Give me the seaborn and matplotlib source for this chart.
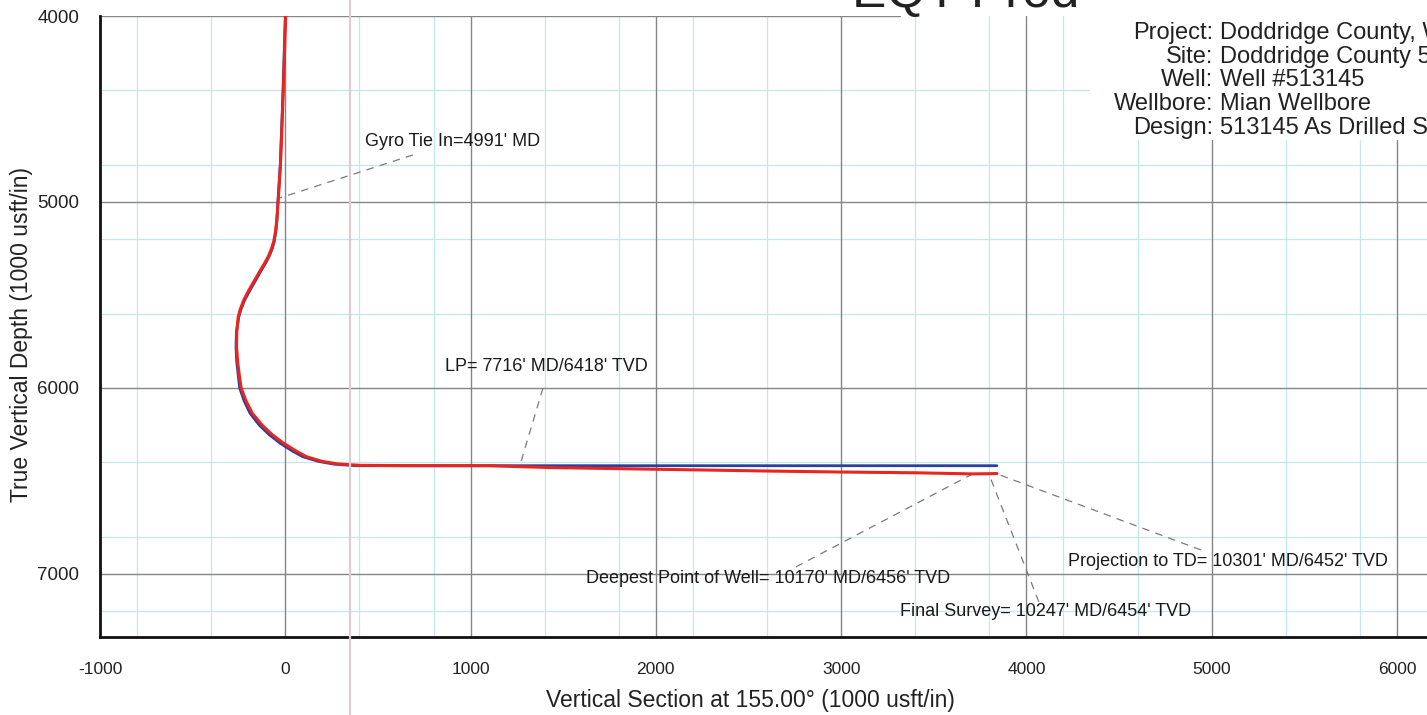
import matplotlib
matplotlib.use("Agg")
import matplotlib.pyplot as plt
import seaborn as sns
from matplotlib.ticker import MultipleLocator
from matplotlib.lines import Line2D
from matplotlib.patches import Rectangle

# As drilled survey (red) - vertical section (ft) vs TVD (ft)
actual_tvd = [4000, 4200, 4400, 4600, 4800, 4990, 5100, 5160, 5210, 5250, 5290, 5330, 5370,
              5435, 5490, 5527, 5580, 5618, 5700, 5780, 5860, 5940, 6000, 6070, 6136, 6200,
              6250, 6297, 6340, 6370, 6395, 6408, 6416, 6418, 6418, 6428, 6437, 6447, 6452,
              6456, 6462, 6461, 6460]
actual_vs = [2, -4, -11, -18, -26, -38, -46, -53, -62, -74, -90, -112, -136,
             -174, -205, -224, -244, -254, -262, -263, -257, -247, -238, -212, -178, -125,
             -72, -10, 60, 115, 200, 280, 400, 700, 1100, 1430, 2000, 2630, 3000,
             3400, 3706, 3798, 3841]

# Plan (blue)
plan_tvd = [4000, 4400, 4800, 5000, 5100, 5160, 5210, 5250, 5290, 5330, 5370, 5435, 5490,
            5527, 5580, 5618, 5700, 5780, 5860, 5940, 6000, 6070, 6136, 6200, 6250, 6297,
            6340, 6370, 6395, 6410, 6418, 6418]
plan_vs = [0, -12, -27, -40, -45, -51, -59, -70, -86, -107, -131, -168, -199,
           -219, -240, -251, -264, -266, -262, -253, -246, -222, -190, -140, -88, -28,
           40, 95, 180, 265, 380, 3841]

# annotations: label, text position (vs, tvd), leader start, leader end
ann_labels = ["Gyro Tie In=4991' MD",
              "LP= 7716' MD/6418' TVD",
              "Deepest Point of Well= 10170' MD/6456' TVD",
              "Final Survey= 10247' MD/6454' TVD",
              "Projection to TD= 10301' MD/6452' TVD"]
ann_text_xy = [(430, 4677), (862, 5882), (3587, 7027), (3317, 7204), (4224, 6935)]
ann_ha = ["left", "left", "right", "left", "left"]
ann_from = [(689, 4747), (1391, 6000), (2756, 6962), (4067, 7150), (4942, 6871)]
ann_to = [(-29, 4978), (1267, 6414), (3706, 6464), (3798, 6464), (3841, 6462)]

header_keys = ["Project:", "Site:", "Well:", "Wellbore:", "Design:"]
header_vals = ["Doddridge County, WV", "Doddridge County 513145", "Well #513145",
               "Mian Wellbore", "513145 As Drilled Surveys"]

# background grid (light cyan) positions
cyan_x = [-800, -400, 400, 800, 1400, 1800, 2200, 2600, 3400, 3800, 4200, 4600, 5400, 5800]
cyan_y = [4400, 4800, 5200, 5600, 6400, 6800, 7200]

W, H = 1427, 715
sns.set_style("white")
plt.rcParams["font.family"] = ["Liberation Sans", "DejaVu Sans"]
plt.rcParams["axes.unicode_minus"] = False

fig = plt.figure(figsize=(W / 100, H / 100), dpi=100)
ax = fig.add_axes([100 / W, 78 / H, 1327 / W, (637 - 16) / H])

for x in cyan_x:
    ax.axvline(x, color="#c2e7ee", lw=0.9, zorder=0)
for y in cyan_y:
    ax.axhline(y, color="#c2e7ee", lw=0.9, zorder=0)
for x in range(0, 7000, 1000):
    ax.axvline(x, color="#858585", lw=1.0, zorder=0.5)
for y in [5000, 6000, 7000]:
    ax.axhline(y, color="#858585", lw=1.0, zorder=0.5)
ax.axhline(4000, xmax=0.603, color="#858585", lw=1.0, zorder=0.5)

sns.lineplot(x=plan_vs, y=plan_tvd, sort=False, estimator=None, color="#2b3f9e",
             lw=2.0, ax=ax, zorder=3)
sns.lineplot(x=actual_vs, y=actual_tvd, sort=False, estimator=None, color="#e8251e",
             lw=2.2, ax=ax, zorder=4)

for lab, txy, ha, p0, p1 in zip(ann_labels, ann_text_xy, ann_ha, ann_from, ann_to):
    ax.plot([p0[0], p1[0]], [p0[1], p1[1]], ls=(0, (6, 5)), color="#7a7a7a", lw=0.9, zorder=2)
    ax.text(txy[0], txy[1], lab, ha=ha, va="center", fontsize=13, color="#1a1a1a", zorder=5)

ax.set_xlim(-1000, 6162)
ax.set_ylim(7339, 4000)
ax.xaxis.set_major_locator(MultipleLocator(1000))
ax.xaxis.set_minor_locator(MultipleLocator(200))
ax.yaxis.set_major_locator(MultipleLocator(1000))
ax.yaxis.set_minor_locator(MultipleLocator(200))
ax.tick_params(axis="both", which="major", length=13, width=1.6, direction="out",
               color="#111111", labelcolor="#222222")
ax.tick_params(axis="both", which="minor", length=7, width=1.2, direction="out", color="#111111")
ax.tick_params(axis="x", which="major", pad=5, labelsize=12.5)
ax.tick_params(axis="y", which="major", pad=2, labelsize=13.5)
ax.tick_params(axis="x", which="minor", length=6.5)

for s in ["top", "right"]:
    ax.spines[s].set_visible(False)
for s in ["left", "bottom"]:
    ax.spines[s].set_linewidth(2.0)
    ax.spines[s].set_color("#111111")

ax.set_xlabel("Vertical Section at 155.00\u00b0 (1000 usft/in)", fontsize=16.5, color="#222222")
ax.set_ylabel("True Vertical Depth (1000 usft/in)", fontsize=16.5, color="#222222")
ax.xaxis.set_label_coords((750 - 100) / 1327, -(689 - 637) / 621)
ax.yaxis.set_label_coords(-(100 - 33) / 1327, (637 - 335) / 621)

# header block
fig.add_artist(Rectangle((1090 / W, 1 - 140 / H), 1 - 1090 / W, 140 / H, transform=fig.transFigure,
                         facecolor="white", edgecolor="none", zorder=1))
fig.text(852 / W, 1 - 7 / H, "EQT Prod", fontsize=37, color="#222222", ha="left", va="baseline",
         zorder=3)
for i, (k, v) in enumerate(zip(header_keys, header_vals)):
    yy = 1 - (33 + i * 23.75) / H
    fig.text(1213 / W, yy, k, fontsize=17, ha="right", va="center", color="#222222", zorder=3)
    fig.text(1220 / W, yy, v, fontsize=17, ha="left", va="center", color="#222222", zorder=3)

# scan fold line
fig.add_artist(Line2D([350 / W, 350 / W], [0, 1], transform=fig.transFigure, color="#dccdd0",
                      lw=1.6, zorder=0.8))

fig.savefig("out.png", dpi=100)
